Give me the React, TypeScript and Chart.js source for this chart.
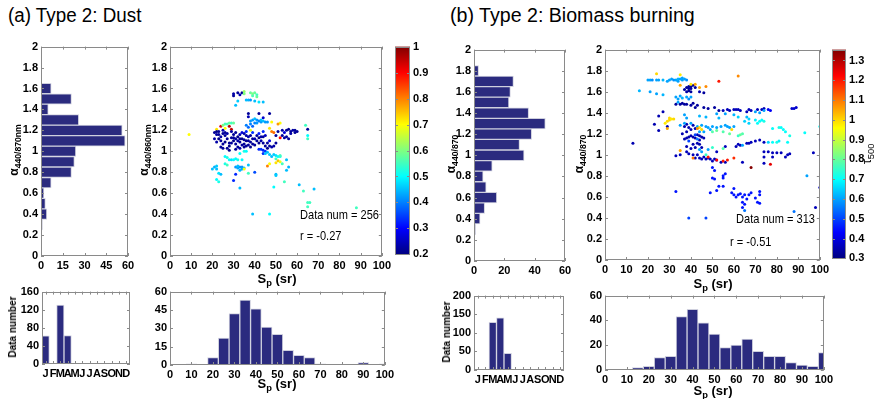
import React, { useEffect, useRef } from 'react';
import { Chart, registerables } from 'chart.js';
Chart.register(...registerables);

const FONT = "'Liberation Sans Narrow', 'Liberation Sans', Arial, sans-serif";
const BAR = '#2b2b7f';
const EDGE = '#cfd0de';

// ---------- data ----------
const alphaTicks = [0, 0.2, 0.4, 0.6, 0.8, 1, 1.2, 1.4, 1.6, 1.8, 2];
const spTicks = [0, 10, 20, 30, 40, 50, 60, 70, 80, 90, 100];
const months = ['J', 'F', 'M', 'A', 'M', 'J', 'J', 'A', 'S', 'O', 'N', 'D'];
const spCenters = [10, 15, 20, 25, 30, 35, 40, 45, 50, 55, 60, 65, 70, 75, 80, 85, 90, 95, 100];

const dustAlphaCenters = [0.3, 0.4, 0.5, 0.6, 0.7, 0.8, 0.9, 1.0, 1.1, 1.2, 1.3, 1.4, 1.5, 1.6];
const dustAlphaCounts = [1, 4, 3, 2, 7, 21, 23, 24, 58, 56, 26, 5, 21, 7];
const dustHistTicks = [0, 15, 30, 45, 60];
const dustMonthly = [62, 0, 130, 63, 0, 0, 0, 0, 0, 0, 0, 0];
const dustMonthTicks = [0, 40, 80, 120, 160];
const dustSpCounts = [1, 0, 6, 22, 42, 53, 46, 31, 25, 12, 8, 6, 1, 0, 0, 0, 2, 0, 1];
const dustSpTicks = [0, 15, 30, 45, 60];
const dustTauTicks = [0.2, 0.3, 0.4, 0.5, 0.6, 0.7, 0.8, 0.9, 1];
const dustTauRange = [0.2, 1.0];

const bioAlphaCenters = [0.3, 0.4, 0.5, 0.6, 0.7, 0.8, 0.9, 1.0, 1.1, 1.2, 1.3, 1.4, 1.5, 1.6, 1.7, 1.8];
const bioAlphaCounts = [1, 4, 7, 15, 8, 6, 12, 33, 30, 38, 47, 36, 23, 24, 26, 3];
const bioHistTicks = [0, 20, 40, 60];
const bioMonthly = [0, 0, 128, 140, 45, 0, 0, 0, 0, 0, 0, 0];
const bioMonthTicks = [0, 50, 100, 150, 200];
const bioSpCounts = [0, 2, 3, 10, 11, 43, 49, 38, 29, 18, 20, 25, 15, 11, 11, 6, 4, 3, 14];
const bioSpTicks = [0, 20, 40, 60];
const bioTauTicks = [0.3, 0.4, 0.5, 0.6, 0.7, 0.8, 0.9, 1, 1.1, 1.2, 1.3];
const bioTauRange = [0.3, 1.355];

// [Sp (sr), alpha, tau500]
const dustPoints: number[][] = [
  [9, 1.16, 0.7],
  [30, 1.53, 0.22], [30, 1.55, 0.23], [32, 1.56, 0.22], [33, 1.54, 0.24], [34, 1.56, 0.22], [35, 1.57, 0.62], [35, 1.55, 0.6],
  [38, 1.56, 0.58], [39, 1.55, 0.6], [40, 1.56, 0.58], [41, 1.54, 0.55], [39, 1.53, 0.56], [41, 1.52, 0.58],
  [31, 1.44, 0.45], [32, 1.48, 0.46], [36, 1.49, 0.45], [37, 1.49, 0.44], [38, 1.49, 0.42], [40, 1.48, 0.45], [42, 1.47, 0.48], [44, 1.47, 0.45],
  [37, 1.36, 0.22], [42, 1.36, 0.22], [47, 1.36, 0.22], [37, 1.33, 0.24], [44, 1.32, 0.26],
  [38, 1.29, 0.42], [39, 1.3, 0.42], [40, 1.31, 0.45], [41, 1.3, 0.42], [42, 1.29, 0.4], [43, 1.28, 0.42], [44, 1.29, 0.45], [45, 1.28, 0.42],
  [46, 1.28, 0.42], [40, 1.27, 0.4], [38, 1.26, 0.4], [39, 1.24, 0.38], [41, 1.27, 0.42], [43, 1.3, 0.45], [36, 1.25, 0.4], [37, 1.23, 0.38],
  [48, 1.28, 0.7], [52, 1.27, 0.7], [38, 1.2, 0.68], [51, 1.26, 0.78], [48, 1.19, 0.8], [49, 1.18, 0.82], [52, 1.13, 0.9], [47, 1.22, 0.72],
  [24, 1.24, 0.92], [28, 1.24, 0.95], [29, 1.21, 0.95], [22, 1.21, 0.72], [26, 1.22, 0.7], [26, 1.26, 0.55], [28, 1.27, 0.58], [29, 1.27, 0.55],
  [30, 1.27, 0.58], [25, 1.25, 0.6], [27, 1.26, 0.56],
  [21, 1.18, 0.22], [22, 1.19, 0.21], [22, 1.16, 0.23], [23, 1.19, 0.22], [23, 1.12, 0.21], [24, 1.1, 0.22], [24, 1.14, 0.23], [25, 1.17, 0.22],
  [25, 1.2, 0.24], [26, 1.15, 0.22], [26, 1.09, 0.21], [27, 1.12, 0.22], [27, 1.17, 0.23], [28, 1.08, 0.22], [28, 1.05, 0.21], [29, 1.13, 0.22],
  [29, 1.19, 0.23], [30, 1.16, 0.22], [30, 1.1, 0.21], [31, 1.07, 0.22], [31, 1.12, 0.23], [32, 1.04, 0.22], [32, 1.14, 0.21], [33, 1.09, 0.22],
  [33, 1.16, 0.24], [34, 1.06, 0.22], [34, 1.12, 0.21], [35, 1.07, 0.22], [35, 1.17, 0.23], [36, 1.05, 0.22], [36, 1.1, 0.21], [37, 1.06, 0.22],
  [37, 1.14, 0.24], [38, 1.09, 0.22], [38, 1.04, 0.21], [39, 1.07, 0.22], [40, 1.12, 0.24], [41, 1.15, 0.22], [42, 1.08, 0.21], [43, 1.1, 0.23],
  [44, 1.14, 0.22], [45, 1.15, 0.25], [45, 1.05, 0.22], [46, 1.03, 0.21], [47, 1.05, 0.22], [48, 1.04, 0.23], [46, 1.08, 0.22], [42, 1.13, 0.21],
  [24, 1.04, 0.22], [22, 1.09, 0.23], [25, 1.03, 0.22], [28, 1.01, 0.21], [27, 1.03, 0.22], [30, 1.13, 0.22], [31, 1.18, 0.22], [32, 1.1, 0.23],
  [33, 1.12, 0.22], [34, 1.18, 0.27], [35, 1.11, 0.22], [36, 1.15, 0.23], [39, 1.12, 0.22], [40, 1.06, 0.22], [41, 1.1, 0.22], [43, 1.14, 0.23],
  [44, 1.08, 0.22], [47, 1.1, 0.27], [23, 1.16, 0.22], [26, 1.18, 0.22], [29, 1.08, 0.22], [31, 1.02, 0.22], [33, 1.03, 0.23], [35, 1.04, 0.22],
  [37, 1.1, 0.22], [38, 1.15, 0.22], [21, 1.12, 0.23], [25, 1.07, 0.22],
  [36, 1.19, 0.33], [39, 1.18, 0.34], [42, 1.17, 0.32], [44, 1.19, 0.33],
  [50, 1.15, 0.22], [51, 1.19, 0.22], [53, 1.2, 0.23], [55, 1.2, 0.22], [56, 1.21, 0.21], [57, 1.19, 0.22], [58, 1.2, 0.23], [59, 1.2, 0.22],
  [60, 1.19, 0.22], [57, 1.17, 0.23], [55, 1.14, 0.22], [53, 1.15, 0.22], [54, 1.13, 0.23], [56, 1.12, 0.22], [65, 1.21, 0.22], [50, 1.08, 0.22],
  [49, 1.05, 0.23], [59, 1.18, 0.22], [54, 1.18, 0.27],
  [64, 1.25, 0.55], [65, 1.12, 0.55], [65, 1.15, 0.5],
  [42, 1.02, 0.33], [43, 1.02, 0.34], [44, 1.01, 0.33], [45, 1.0, 0.34], [44, 0.98, 0.33], [45, 0.98, 0.45], [47, 0.97, 0.46], [48, 0.95, 0.45],
  [50, 0.96, 0.48], [51, 0.95, 0.5], [52, 0.95, 0.52], [46, 0.99, 0.45], [49, 0.97, 0.46],
  [33, 0.98, 0.5], [35, 1.0, 0.52], [36, 1.0, 0.5], [50, 0.93, 0.55], [52, 0.96, 0.55],
  [26, 0.95, 0.5], [27, 0.94, 0.52], [28, 0.92, 0.5], [29, 0.92, 0.48], [30, 0.92, 0.5], [32, 0.92, 0.52], [34, 0.92, 0.5], [26, 0.88, 0.52],
  [27, 0.87, 0.55], [37, 0.87, 0.45], [31, 0.93, 0.5],
  [20, 0.83, 0.45], [21, 0.85, 0.44], [22, 0.86, 0.46], [22, 0.83, 0.45], [23, 0.79, 0.48], [24, 0.78, 0.45], [22, 0.73, 0.5], [23, 0.71, 0.52],
  [31, 0.85, 0.42], [32, 0.84, 0.43], [33, 0.85, 0.42], [33, 0.82, 0.44], [34, 0.85, 0.42], [35, 0.84, 0.45], [34, 0.83, 0.43], [35, 0.83, 0.7],
  [31, 0.78, 0.33], [30, 0.72, 0.33], [37, 0.79, 0.55], [32, 0.86, 0.45],
  [40, 0.8, 0.36], [46, 0.86, 0.8], [47, 0.88, 0.7], [50, 0.89, 0.72], [51, 0.91, 0.75], [52, 0.9, 0.68], [53, 0.88, 0.55],
  [50, 0.78, 0.45], [50, 0.77, 0.46], [55, 0.82, 0.45], [55, 0.92, 0.45], [56, 0.85, 0.44], [54, 0.71, 0.55],
  [33, 0.65, 0.45], [49, 0.66, 0.5], [61, 0.68, 0.45], [63, 0.62, 0.55], [68, 0.64, 0.45], [65, 0.51, 0.55], [66, 0.51, 0.55], [65, 0.47, 0.55],
  [88, 0.46, 0.55], [39, 0.4, 0.45], [47, 0.4, 0.5],
];

const bioPoints: number[][] = [
  [20, 1.71, 0.6], [21, 1.71, 0.6], [22, 1.71, 0.58], [24, 1.71, 0.6], [25, 1.71, 0.6], [27, 1.71, 0.62], [29, 1.7, 0.6], [30, 1.71, 0.6],
  [31, 1.72, 0.6], [32, 1.71, 0.58], [33, 1.71, 0.6], [34, 1.72, 0.62], [35, 1.72, 0.6], [36, 1.71, 0.6], [37, 1.72, 0.6], [38, 1.71, 0.58],
  [34, 1.7, 0.6], [36, 1.73, 0.6],
  [24, 1.77, 1.0], [35, 1.76, 0.98], [62, 1.75, 1.08], [53, 1.7, 1.2],
  [16, 1.61, 0.62], [21, 1.6, 0.6], [24, 1.58, 0.6], [27, 1.57, 0.62],
  [37, 1.62, 0.33], [38, 1.64, 0.33], [39, 1.65, 0.32], [40, 1.63, 0.33], [41, 1.66, 0.33], [38, 1.6, 0.34], [40, 1.6, 0.33], [42, 1.64, 0.33],
  [39, 1.61, 0.32], [44, 1.6, 0.35], [46, 1.59, 0.33], [39, 1.63, 0.33], [40, 1.65, 0.33],
  [35, 1.66, 1.05], [42, 1.67, 1.05], [44, 1.64, 1.05], [47, 1.65, 1.08], [40, 1.67, 0.98],
  [33, 1.55, 0.6], [34, 1.53, 0.6], [35, 1.56, 0.6], [38, 1.55, 0.6], [39, 1.53, 0.58], [40, 1.55, 0.6], [34, 1.5, 0.6], [36, 1.54, 0.62],
  [33, 1.48, 0.33], [35, 1.48, 0.33], [36, 1.49, 0.33], [37, 1.48, 0.33], [38, 1.48, 0.33], [40, 1.47, 0.33], [41, 1.49, 0.33], [43, 1.47, 0.33],
  [42, 1.45, 0.33], [46, 1.45, 0.33], [48, 1.44, 0.33], [51, 1.45, 0.33], [53, 1.42, 0.33],
  [55, 1.42, 0.36], [57, 1.43, 0.36], [58, 1.42, 0.36], [60, 1.43, 0.36], [61, 1.43, 0.36], [62, 1.43, 0.36], [63, 1.42, 0.36], [66, 1.41, 0.36],
  [67, 1.43, 0.36], [68, 1.42, 0.36], [71, 1.43, 0.36], [73, 1.43, 0.36], [74, 1.44, 0.36], [76, 1.43, 0.42], [77, 1.42, 0.42], [88, 1.44, 0.38],
  [89, 1.45, 0.38], [87, 1.44, 0.38],
  [70, 1.41, 0.6], [72, 1.4, 0.6], [74, 1.42, 0.6], [52, 1.39, 0.6], [56, 1.39, 0.6], [60, 1.38, 0.62], [62, 1.36, 0.65], [66, 1.36, 0.62],
  [67, 1.34, 0.65], [71, 1.3, 0.7], [72, 1.32, 0.7], [74, 1.32, 0.72],
  [27, 1.41, 0.35], [25, 1.37, 0.35], [23, 1.29, 0.35], [25, 1.23, 0.35], [29, 1.27, 0.35], [13, 1.11, 0.35],
  [29, 1.32, 1.0], [30, 1.33, 1.0], [31, 1.34, 0.98], [32, 1.34, 1.0], [30, 1.35, 1.0], [28, 1.3, 0.98], [29, 1.25, 1.05],
  [37, 1.27, 0.35], [38, 1.29, 0.35], [39, 1.26, 0.35], [40, 1.24, 0.35], [41, 1.28, 0.35], [42, 1.25, 0.35], [38, 1.22, 0.35], [36, 1.2, 0.35],
  [37, 1.15, 0.35], [39, 1.17, 0.35], [40, 1.18, 0.35], [41, 1.17, 0.35], [42, 1.16, 0.35], [43, 1.19, 0.35], [44, 1.18, 0.35], [45, 1.17, 0.35],
  [44, 1.14, 0.35], [46, 1.16, 0.35], [38, 1.16, 0.35], [38, 1.08, 0.35], [40, 1.06, 0.35], [42, 1.07, 0.35], [41, 1.1, 0.35], [43, 1.11, 0.35],
  [44, 1.1, 0.35], [45, 1.07, 0.35], [39, 1.13, 0.5], [42, 1.19, 0.5], [43, 1.15, 0.55],
  [35, 1.28, 0.6], [43, 1.27, 0.6], [45, 1.28, 0.6], [47, 1.27, 0.6], [48, 1.26, 0.6], [50, 1.27, 0.6], [52, 1.26, 0.6], [54, 1.27, 0.6],
  [56, 1.28, 0.6], [57, 1.27, 0.6], [58, 1.26, 0.6], [60, 1.27, 0.6], [40, 1.3, 0.6], [37, 1.3, 0.6], [44, 1.22, 0.6], [46, 1.22, 0.6],
  [49, 1.24, 0.6], [53, 1.35, 0.62], [47, 1.36, 0.62], [44, 1.37, 0.62], [37, 1.38, 0.6], [38, 1.35, 0.6],
  [50, 1.22, 0.78], [52, 1.23, 0.8], [55, 1.22, 0.78], [58, 1.2, 0.8], [62, 1.18, 0.75], [63, 1.19, 0.8], [64, 1.2, 0.78],
  [45, 1.24, 1.0], [44, 1.26, 0.98], [59, 1.24, 1.0], [43, 1.25, 1.08],
  [65, 1.32, 0.65], [67, 1.3, 0.65], [70, 1.33, 0.68], [73, 1.33, 0.7], [78, 1.25, 0.7], [81, 1.26, 0.72], [82, 1.26, 0.7], [83, 1.24, 0.7],
  [84, 1.22, 0.7], [86, 1.18, 0.72], [93, 1.21, 0.7], [100, 1.27, 0.7], [78, 1.12, 0.7], [80, 1.12, 0.72], [81, 1.13, 0.68], [85, 1.12, 0.7],
  [76, 1.12, 0.65],
  [70, 1.13, 0.36], [72, 1.14, 0.36], [74, 1.12, 0.36], [66, 1.11, 0.36], [67, 1.11, 0.36], [68, 1.12, 0.36], [62, 1.1, 0.36], [63, 1.09, 0.36],
  [61, 1.08, 0.36], [64, 1.09, 0.6],
  [35, 1.0, 0.36], [33, 0.99, 0.36], [38, 1.03, 0.36], [39, 1.01, 0.36], [41, 1.0, 0.36], [42, 0.97, 0.36], [43, 1.0, 0.36], [44, 0.97, 0.36],
  [45, 0.96, 0.36], [46, 0.98, 0.36], [47, 0.96, 0.36], [48, 0.97, 0.36], [49, 0.96, 0.36], [50, 0.94, 0.36], [51, 0.96, 0.36], [52, 0.95, 0.36],
  [54, 0.93, 0.36], [56, 0.93, 0.36], [56, 1.08, 0.36], [52, 1.03, 0.36],
  [48, 0.98, 1.2], [52, 0.95, 1.22], [55, 0.94, 1.2], [57, 0.95, 1.2], [60, 0.97, 1.18], [41, 0.97, 1.1], [35, 1.04, 1.05],
  [44, 1.05, 0.6], [45, 1.03, 0.6], [48, 1.05, 0.6], [47, 1.0, 0.75], [50, 1.07, 0.75], [55, 1.06, 0.78],
  [74, 1.03, 0.36], [76, 1.03, 0.36], [78, 1.02, 0.36], [80, 1.02, 0.36], [82, 1.02, 0.36], [84, 0.98, 0.36], [85, 1.0, 0.36], [86, 1.01, 0.36],
  [74, 0.98, 0.36], [78, 0.98, 0.36], [74, 0.92, 0.36], [77, 0.91, 1.25], [68, 0.88, 1.35], [64, 0.93, 0.36], [97, 1.02, 0.36],
  [50, 0.88, 0.45], [51, 0.85, 0.45], [50, 0.78, 0.45], [51, 0.77, 0.45], [55, 0.78, 0.45], [55, 0.8, 0.45], [56, 0.82, 0.45], [53, 0.7, 0.45],
  [55, 0.7, 0.45], [49, 0.64, 0.45], [52, 0.66, 0.45],
  [59, 0.64, 0.45], [60, 0.62, 0.45], [61, 0.6, 0.45], [62, 0.62, 0.45], [63, 0.63, 0.45], [64, 0.6, 0.45], [65, 0.62, 0.45], [66, 0.58, 0.45],
  [67, 0.62, 0.45], [68, 0.64, 0.45], [70, 0.59, 0.45], [72, 0.62, 0.45], [72, 0.65, 0.45], [71, 0.55, 0.45], [72, 0.54, 0.45], [64, 0.55, 0.45],
  [65, 0.53, 0.45], [64, 0.5, 0.45], [60, 0.68, 0.45], [65, 0.47, 0.55], [88, 0.46, 0.55],
  [33, 0.65, 0.45], [39, 0.4, 0.5], [47, 0.4, 0.5], [94, 0.8, 0.6], [98, 0.5, 0.36], [100, 0.69, 0.36],
];

// ---------- helpers ----------
function jet(t: number) {
  t = Math.max(0, Math.min(1, t));
  const c = (x: number) => Math.round(255 * Math.max(0, Math.min(1, 1.5 - Math.abs(x))));
  return `rgb(${c(4 * t - 3)},${c(4 * t - 2)},${c(4 * t - 1)})`;
}

const tickFont = { family: FONT, size: 11, weight: 'bold' as const };

function lin(min: number, max: number, ticks: number[], extra: any = {}) {
  return {
    type: 'linear',
    min,
    max,
    offset: false,
    grid: { display: false, drawTicks: false },
    border: { display: false },
    afterBuildTicks: (s: any) => {
      s.ticks = ticks.map((v) => ({ value: v }));
    },
    ticks: { color: '#000', font: tickFont, padding: 3, maxRotation: 0, autoSkip: false, callback: (v: any) => String(v) },
    ...extra,
  };
}

const boxPlugin = {
  id: 'matlabBox',
  afterDraw(chart: any) {
    const { ctx, chartArea: a } = chart;
    ctx.save();
    ctx.strokeStyle = '#8a8a8a';
    ctx.lineWidth = 1;
    for (const id of Object.keys(chart.scales)) {
      const s = chart.scales[id];
      if (s.options.display === false) continue;
      for (let i = 0; i < s.ticks.length; i++) {
        const p = Math.round(s.getPixelForTick(i)) + 0.5;
        ctx.beginPath();
        if (s.isHorizontal()) {
          ctx.moveTo(p, a.bottom);
          ctx.lineTo(p, a.bottom - 3);
          ctx.moveTo(p, a.top);
          ctx.lineTo(p, a.top + 3);
        } else {
          ctx.moveTo(a.left, p);
          ctx.lineTo(a.left + 3, p);
          ctx.moveTo(a.right, p);
          ctx.lineTo(a.right - 3, p);
        }
        ctx.stroke();
      }
    }
    ctx.strokeRect(Math.round(a.left) + 0.5, Math.round(a.top) + 0.5, Math.round(a.width) - 1, Math.round(a.height) - 1);
    ctx.restore();
  },
};

type Box = { l: number; t: number; r: number; b: number };
type Pad = { l: number; t: number; r: number; b: number };

function ChartBox({ box, pad, build }: { box: Box; pad: Pad; build: () => any }) {
  const ref = useRef<HTMLCanvasElement>(null);
  const w = box.r - box.l + pad.l + pad.r;
  const h = box.b - box.t + pad.t + pad.b;
  useEffect(() => {
    const cfg = build();
    const scales = cfg.options.scales;
    const lp: any = { left: pad.l, right: pad.r, top: pad.t, bottom: pad.b };
    for (const id of Object.keys(scales)) {
      const sc = scales[id];
      if (sc.display === false) continue;
      const pos = sc.position || (id === 'x' ? 'bottom' : 'left');
      const size = pos === 'left' ? pad.l : pos === 'right' ? pad.r : pos === 'bottom' ? pad.b : pad.t;
      if (pos === 'left' || pos === 'right') sc.afterFit = (s: any) => { s.width = size; };
      else sc.afterFit = (s: any) => { s.height = size; };
      lp[pos] = 0;
    }
    cfg.options = {
      ...cfg.options,
      responsive: false,
      maintainAspectRatio: false,
      animation: false,
      devicePixelRatio: 1,
      layout: { padding: lp },
      plugins: { legend: { display: false }, tooltip: { enabled: false }, title: { display: false } },
    };
    cfg.plugins = [boxPlugin];
    const chart = new Chart(ref.current as HTMLCanvasElement, cfg);
    return () => chart.destroy();
  }, []);
  return (
    <canvas
      ref={ref}
      width={w}
      height={h}
      style={{ position: 'absolute', left: box.l - pad.l, top: box.t - pad.t, width: w, height: h }}
    />
  );
}

function hHistCfg(centers: number[], counts: number[], ticks: number[]) {
  return () => ({
    type: 'bar',
    data: {
      datasets: [
        {
          data: centers.map((c, i) => ({ x: counts[i], y: c })).filter((d) => d.x > 0),
          backgroundColor: BAR,
          borderColor: EDGE,
          borderWidth: 1,
          borderSkipped: false,
          barPercentage: 1,
          categoryPercentage: 1,
        },
      ],
    },
    options: {
      indexAxis: 'y',
      scales: { x: lin(0, ticks[ticks.length - 1], ticks), y: lin(0, 2, alphaTicks) },
    },
  });
}

function spHistCfg(counts: number[], ticks: number[]) {
  return () => ({
    type: 'bar',
    data: {
      datasets: [
        {
          data: spCenters.map((c, i) => ({ x: c, y: counts[i] })).filter((d) => d.y > 0),
          backgroundColor: BAR,
          borderColor: EDGE,
          borderWidth: 1,
          borderSkipped: false,
          barPercentage: 1,
          categoryPercentage: 1,
        },
      ],
    },
    options: {
      scales: { x: lin(0, 100, spTicks), y: lin(0, ticks[ticks.length - 1], ticks) },
    },
  });
}

function monthCfg(values: number[], ticks: number[]) {
  return () => ({
    type: 'bar',
    data: {
      labels: months,
      datasets: [
        {
          data: values,
          backgroundColor: BAR,
          borderColor: EDGE,
          borderWidth: 1,
          borderSkipped: false,
          barPercentage: 1,
          categoryPercentage: 1,
        },
      ],
    },
    options: {
      scales: {
        x: {
          type: 'category',
          offset: true,
          grid: { display: false, drawTicks: false, offset: false },
          border: { display: false },
          ticks: { color: '#000', font: tickFont, padding: 3, maxRotation: 0, autoSkip: false },
        },
        y: lin(0, ticks[ticks.length - 1], ticks),
      },
    },
  });
}

function scatterCfg(points: number[][], range: number[]) {
  return () => ({
    type: 'scatter',
    data: {
      datasets: [
        {
          data: points.map((p) => ({ x: p[0], y: p[1] })),
          pointBackgroundColor: points.map((p) => jet((p[2] - range[0]) / (range[1] - range[0]))),
          pointBorderWidth: 0,
          pointRadius: 1.5,
        },
      ],
    },
    options: {
      scales: { x: lin(0, 100, spTicks), y: lin(0, 2, alphaTicks) },
    },
  });
}

function colorbarCfg(range: number[], ticks: number[]) {
  return () => ({
    type: 'bar',
    data: {
      labels: [''],
      datasets: [
        {
          data: [[range[0], range[1]]],
          backgroundColor: (c: any) => {
            const { ctx, chartArea } = c.chart;
            if (!chartArea) return '#000080';
            const g = ctx.createLinearGradient(0, chartArea.bottom, 0, chartArea.top);
            for (let i = 0; i <= 32; i++) g.addColorStop(i / 32, jet(i / 32));
            return g;
          },
          borderWidth: 0,
          barPercentage: 1,
          categoryPercentage: 1,
        },
      ],
    },
    options: {
      scales: {
        x: { type: 'category', display: false },
        y: lin(range[0], range[1], ticks, { position: 'right' }),
      },
    },
  });
}

function Txt({ x, y, rot, size = 12, bold = true, left = false, sx = 1, children }: any) {
  return (
    <div
      style={{
        position: 'absolute',
        left: x,
        top: y,
        transformOrigin: left ? 'left center' : 'center center',
        transform: `translate(${left ? '0' : '-50%'},-50%)${rot ? ' rotate(-90deg)' : ''}${sx !== 1 ? ` scaleX(${sx})` : ''}`,
        fontFamily: FONT,
        fontSize: size,
        fontWeight: bold ? 'bold' : 'normal',
        whiteSpace: 'nowrap',
        lineHeight: 1,
        color: '#000',
      }}
    >
      {children}
    </div>
  );
}

const subStyle: any = { fontSize: '0.72em', verticalAlign: '-0.35em', lineHeight: 0 };
const Alpha = ({ sub }: { sub: string }) => (
  <span>
    α<sub style={subStyle}>{sub}</sub>
  </span>
);
const SpLabel = () => (
  <span>
    S<sub style={subStyle}>p</sub> (sr)
  </span>
);

export default function App() {
  return (
    <div style={{ position: 'fixed', left: 0, top: 0, width: 876, height: 399, background: '#fff', overflow: 'hidden' }}>
      {/* panel (a) */}
      <ChartBox box={{ l: 41, t: 45, r: 128, b: 256 }} pad={{ l: 30, t: 8, r: 10, b: 16 }} build={hHistCfg(dustAlphaCenters, dustAlphaCounts, dustHistTicks)} />
      <ChartBox box={{ l: 170, t: 45, r: 384, b: 256 }} pad={{ l: 28, t: 8, r: 10, b: 16 }} build={scatterCfg(dustPoints, dustTauRange)} />
      <ChartBox box={{ l: 395, t: 45, r: 410, b: 256 }} pad={{ l: 0, t: 8, r: 28, b: 8 }} build={colorbarCfg(dustTauRange, dustTauTicks)} />
      <ChartBox box={{ l: 42, t: 290, r: 130, b: 364 }} pad={{ l: 30, t: 8, r: 8, b: 16 }} build={monthCfg(dustMonthly, dustMonthTicks)} />
      <ChartBox box={{ l: 170, t: 290, r: 385, b: 365 }} pad={{ l: 28, t: 8, r: 12, b: 16 }} build={spHistCfg(dustSpCounts, dustSpTicks)} />

      {/* panel (b) */}
      <ChartBox box={{ l: 474, t: 48, r: 565, b: 261 }} pad={{ l: 30, t: 8, r: 10, b: 16 }} build={hHistCfg(bioAlphaCenters, bioAlphaCounts, bioHistTicks)} />
      <ChartBox box={{ l: 605, t: 48, r: 822, b: 260 }} pad={{ l: 28, t: 8, r: 10, b: 16 }} build={scatterCfg(bioPoints, bioTauRange)} />
      <ChartBox box={{ l: 832, t: 48, r: 846, b: 260 }} pad={{ l: 0, t: 8, r: 28, b: 8 }} build={colorbarCfg(bioTauRange, bioTauTicks)} />
      <ChartBox box={{ l: 474, t: 294, r: 564, b: 370 }} pad={{ l: 30, t: 8, r: 8, b: 16 }} build={monthCfg(bioMonthly, bioMonthTicks)} />
      <ChartBox box={{ l: 605, t: 294, r: 824, b: 370 }} pad={{ l: 28, t: 8, r: 12, b: 16 }} build={spHistCfg(bioSpCounts, bioSpTicks)} />

      {/* titles */}
      <Txt x={8} y={15} size={20} bold={false} left sx={0.94}>(a) Type 2: Dust</Txt>
      <Txt x={450} y={15} size={20} bold={false} left sx={0.98}>(b) Type 2: Biomass burning</Txt>

      {/* axis labels (a) */}
      <Txt x={14} y={150} rot size={12}><Alpha sub="440/870nm" /></Txt>
      <Txt x={144} y={150} rot size={12}><Alpha sub="440/860nm" /></Txt>
      <Txt x={277} y={278} size={13}><SpLabel /></Txt>
      <Txt x={13} y={327} rot size={10}>Data number</Txt>
      <Txt x={277} y={383} size={13}><SpLabel /></Txt>
      <Txt x={300} y={214} size={13} bold={false} left sx={0.85}>Data num = 256</Txt>
      <Txt x={300} y={235} size={13} bold={false} left sx={0.85}>r = -0.27</Txt>

      {/* axis labels (b) */}
      <Txt x={451} y={154} rot size={12}><Alpha sub="440/870" /></Txt>
      <Txt x={579} y={154} rot size={12}><Alpha sub="440/870" /></Txt>
      <Txt x={866} y={154} rot size={13} bold={false}>
        <span>τ<sub style={subStyle}>500</sub></span>
      </Txt>
      <Txt x={713} y={283} size={13}><SpLabel /></Txt>
      <Txt x={447} y={332} rot size={10}>Data number</Txt>
      <Txt x={713} y={390} size={13}><SpLabel /></Txt>
      <Txt x={736} y={218} size={13} bold={false} left sx={0.85}>Data num = 313</Txt>
      <Txt x={730} y={241} size={13} bold={false} left sx={0.85}>r = -0.51</Txt>
    </div>
  );
}
